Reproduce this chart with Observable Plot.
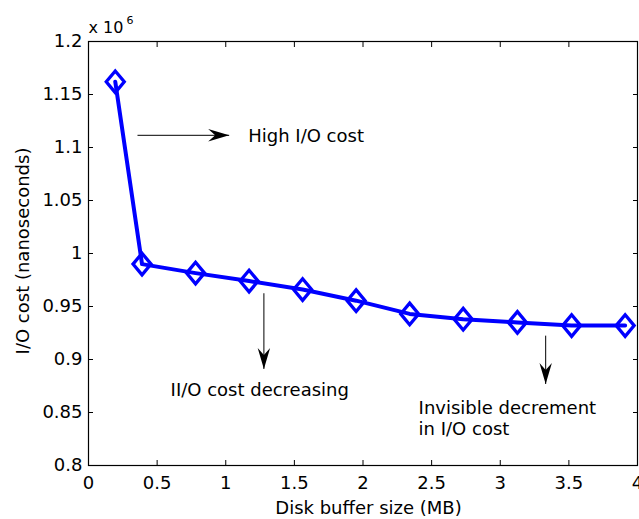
<!DOCTYPE html>
<html>
<head>
<meta charset="utf-8">
<script src="https://cdn.jsdelivr.net/npm/d3@7"></script>
<script src="https://cdn.jsdelivr.net/npm/@observablehq/plot@0.6"></script>
<style>
  html, body { margin: 0; padding: 0; background: #fff; }
</style>
</head>
<body>
<div id="chart"></div>
<script>
// Disk buffer size (MB) and measured I/O cost (×10^6 ns)
const bufferSizes = [0.195, 0.39, 0.78, 1.17, 1.56, 1.95, 2.34, 2.73, 3.125, 3.52, 3.91];
const ioCost = [1.162, 0.990, 0.9815, 0.974, 0.966, 0.9555, 0.943, 0.938, 0.935, 0.932, 0.932];

// Axis ticks and their labels
const xTicks = [0, 0.5, 1, 1.5, 2, 2.5, 3, 3.5, 4];
const xTickLabels = ["0", "0.5", "1", "1.5", "2", "2.5", "3", "3.5", "4"];
const yTicks = [0.8, 0.85, 0.9, 0.95, 1, 1.05, 1.1, 1.15, 1.2];
const yTickLabels = ["0.8", "0.85", "0.9", "0.95", "1", "1.05", "1.1", "1.15", "1.2"];

// Titles
const xTitle = "Disk buffer size (MB)";
const yTitle = "I/O cost (nanoseconds)";
const exponentBase = "x 10";
const exponent = "6";

// Annotation arrows (data coordinates) and notes
const arrowStartX = [0.357, 1.278, 3.331];
const arrowStartY = [1.1115, 0.9625, 0.9225];
const arrowEndX = [1.025, 1.278, 3.331];
const arrowEndY = [1.1115, 0.8911, 0.8769];
const noteX = [1.164, 0.598, 2.405];
const noteY = [1.1115, 0.8722, 0.8453];
const noteText = ["High I/O cost", "II/O cost decreasing", "Invisible decrement\nin I/O cost"];

const points = bufferSizes.map((s, i) => ({size: s, cost: ioCost[i]}));
const arrows = arrowStartX.map((x1, i) => ({x1, y1: arrowStartY[i], x2: arrowEndX[i], y2: arrowEndY[i]}));
const notes = noteX.map((x, i) => ({x, y: noteY[i], text: noteText[i]}));

const xLabelOf = new Map(xTicks.map((t, i) => [t, xTickLabels[i]]));
const yLabelOf = new Map(yTicks.map((t, i) => [t, yTickLabels[i]]));

// Open diamond marker, a little taller than wide
const diamond = {
  draw(ctx) {
    ctx.moveTo(0, -10.8);
    ctx.lineTo(9, 0);
    ctx.lineTo(0, 10.8);
    ctx.lineTo(-9, 0);
    ctx.closePath();
  }
};

// Filled, notched arrowhead with its tip at the origin, pointing along +x
const arrowHead = {
  draw(ctx) {
    ctx.moveTo(0, 0);
    ctx.lineTo(-21, -6.2);
    ctx.lineTo(-14, 0);
    ctx.lineTo(-21, 6.2);
    ctx.closePath();
  }
};

const headAngle = (d) =>
  d.y1 === d.y2 ? (d.x2 > d.x1 ? 0 : 180) : (d.y2 < d.y1 ? 90 : -90);

const font = "DejaVu Sans, Liberation Sans, sans-serif";

const chart = Plot.plot({
  width: 639,
  height: 519,
  marginLeft: 88,
  marginRight: 2,
  marginTop: 41,
  marginBottom: 54,
  style: {fontFamily: font, fontSize: "18px", background: "#fff", color: "#000", overflow: "visible"},
  x: {domain: [0, 4]},
  y: {domain: [0.8, 1.2]},
  marks: [
    // inward ticks on all four sides
    Plot.axisX(xTicks, {anchor: "bottom", tickSize: 5, dy: -5, tickFormat: () => "", label: null, stroke: "#000"}),
    Plot.axisX(xTicks, {anchor: "top", tickSize: 5, dy: 5, tickFormat: () => "", label: null, stroke: "#000"}),
    Plot.axisY(yTicks, {anchor: "left", tickSize: 5, dx: 5, tickFormat: () => "", label: null, stroke: "#000"}),
    Plot.axisY(yTicks, {anchor: "right", tickSize: 5, dx: -5, tickFormat: () => "", label: null, stroke: "#000"}),
    // tick labels
    Plot.axisX(xTicks, {anchor: "bottom", tickSize: 0, tickPadding: 11, tickFormat: (d) => xLabelOf.get(d), label: null, fontSize: 18, fill: "#000"}),
    Plot.axisY(yTicks, {anchor: "left", tickSize: 0, tickPadding: 6, tickFormat: (d) => yLabelOf.get(d), label: null, fontSize: 18, fill: "#000"}),
    Plot.frame({stroke: "#000", strokeWidth: 1.2}),

    // the cost curve
    Plot.line(points, {x: "size", y: "cost", stroke: "#0000ff", strokeWidth: 4}),
    Plot.dot(points, {x: "size", y: "cost", symbol: diamond, stroke: "#0000ff", strokeWidth: 3.3, fill: "none"}),

    // annotations
    Plot.link(arrows, {x1: "x1", y1: "y1", x2: "x2", y2: "y2", stroke: "#000", strokeWidth: 1}),
    Plot.dot(arrows, {x: "x2", y: "y2", symbol: arrowHead, fill: "#000", stroke: "none", rotate: headAngle}),
    Plot.text(notes, {x: "x", y: "y", text: "text", textAnchor: "start", lineAnchor: "middle", lineHeight: 1.18, fontSize: 18, fill: "#000"}),

    // titles and exponent
    Plot.text([xTitle], {text: (d) => d, frameAnchor: "bottom", textAnchor: "middle", lineAnchor: "bottom", dx: 5.5, dy: 48.3, fontSize: 18, fill: "#000"}),
    Plot.text([yTitle], {text: (d) => d, frameAnchor: "left", textAnchor: "middle", lineAnchor: "middle", rotate: -90, dx: -65, dy: -2.5, fontSize: 18, fill: "#000"}),
    Plot.text([exponentBase], {text: (d) => d, frameAnchor: "top-left", textAnchor: "start", lineAnchor: "bottom", dy: -9, fontSize: 16, fill: "#000"}),
    Plot.text([exponent], {text: (d) => d, frameAnchor: "top-left", textAnchor: "start", lineAnchor: "bottom", dx: 38, dy: -18, fontSize: 11, fill: "#000"})
  ]
});

document.getElementById("chart").appendChild(chart);
</script>
</body>
</html>
